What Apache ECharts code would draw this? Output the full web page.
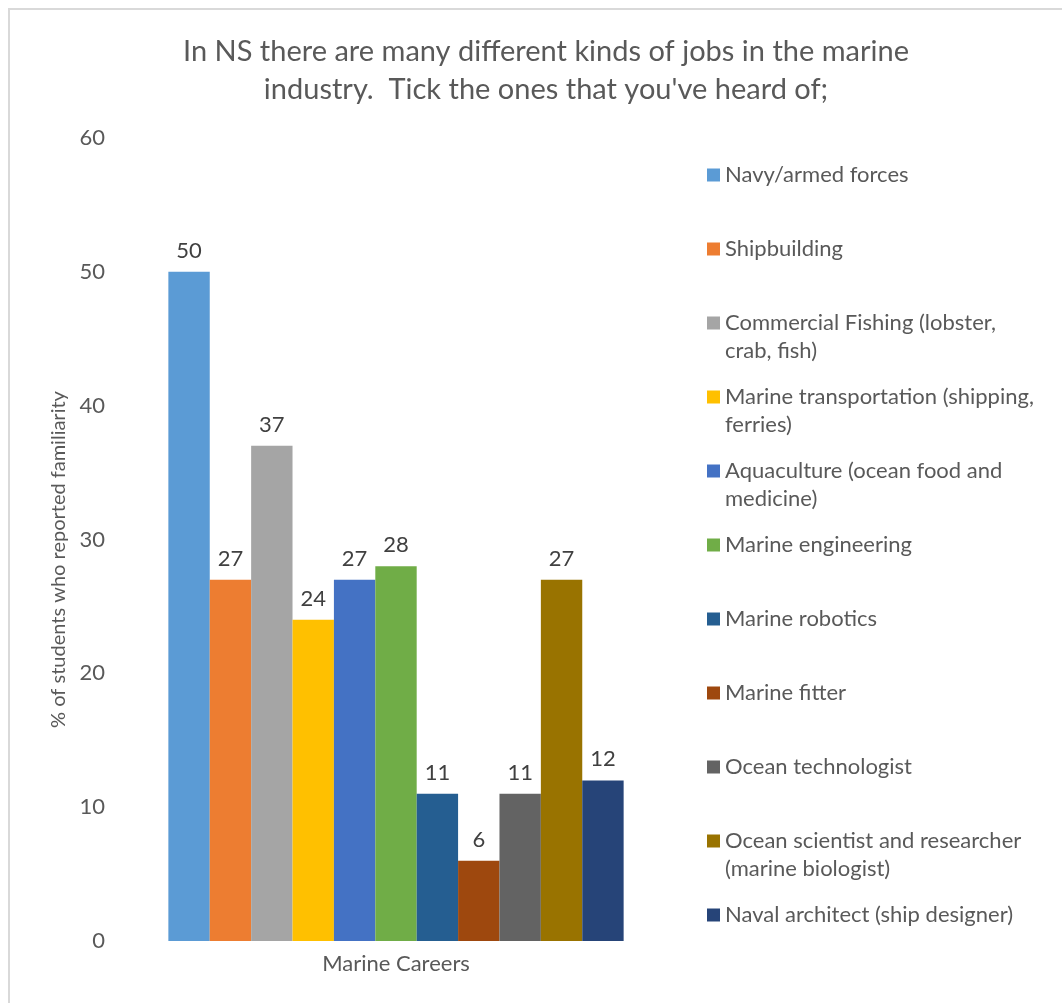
<!DOCTYPE html>
<html>
<head>
<meta charset="utf-8">
<script src="https://cdn.jsdelivr.net/npm/echarts@6/dist/echarts.min.js"></script>
<style>
  html, body { margin: 0; padding: 0; background: #fff; }
  #frame { position: absolute; left: 8px; top: 8px; width: 1062px; height: 1003px;
           border-top: 2px solid #d9d9d9; border-left: 2px solid #d9d9d9; }
  #chartDiv { position: absolute; left: 0; top: 0; width: 1062px; height: 1003px; }
</style>
</head>
<body>
<div id="frame"></div>
<div id="chartDiv"></div>
<script>
var categories = ["Marine Careers"];

var seriesNames = [
  "Navy/armed forces",
  "Shipbuilding",
  "Commercial Fishing (lobster, crab, fish)",
  "Marine transportation (shipping, ferries)",
  "Aquaculture (ocean food and medicine)",
  "Marine engineering",
  "Marine robotics",
  "Marine fitter",
  "Ocean technologist",
  "Ocean scientist and researcher (marine biologist)",
  "Naval architect (ship designer)"
];

// legend text as wrapped in the original
var legendLabels = [
  "Navy/armed forces",
  "Shipbuilding",
  "Commercial Fishing (lobster,\ncrab, fish)",
  "Marine transportation (shipping,\nferries)",
  "Aquaculture (ocean food and\nmedicine)",
  "Marine engineering",
  "Marine robotics",
  "Marine fitter",
  "Ocean technologist",
  "Ocean scientist and researcher\n(marine biologist)",
  "Naval architect (ship designer)"
];

var values = [50, 27, 37, 24, 27, 28, 11, 6, 11, 27, 12];

var colors = ["#5B9BD5", "#ED7D31", "#A5A5A5", "#FFC000", "#4472C4", "#70AD47",
              "#255E91", "#9E480E", "#636363", "#997300", "#264478"];

var yTicks = { min: 0, max: 60, interval: 10 };

var font = "Lato, 'Open Sans', sans-serif";

var myChart = echarts.init(document.getElementById("chartDiv"));

var series = [];
for (var i = 0; i < seriesNames.length; i++) {
  series.push({
    name: seriesNames[i],
    type: "bar",
    data: [values[i]],
    barGap: "0%",
    barCategoryGap: "16%",
    itemStyle: { color: colors[i] },
    label: {
      show: true,
      position: "top",
      distance: 10,
      color: "#404040",
      fontSize: 22,
      fontFamily: font
    }
  });
}

var option = {
  animation: false,
  color: colors,
  title: {
    text: "In NS there are many different kinds of jobs in the marine\nindustry.  Tick the ones that you've heard of;",
    left: 541,
    textAlign: "center",
    top: 28,
    textStyle: {
      fontFamily: font,
      fontWeight: 400,
      fontSize: 29,
      lineHeight: 38,
      color: "#595959"
    }
  },
  legend: {
    orient: "vertical",
    left: 702,
    top: 128,
    itemWidth: 13,
    itemHeight: 13,
    itemGap: -10,
    icon: "rect",
    data: seriesNames,
    // blank first line so the marker sits beside the first text line
    formatter: function (name) {
      var lbl = legendLabels[seriesNames.indexOf(name)];
      if (lbl.indexOf("\n") < 0) lbl += "\n ";
      return " \n" + lbl;
    },
    textStyle: {
      fontFamily: font,
      fontSize: 22,
      lineHeight: 28,
      color: "#595959"
    }
  },
  grid: {
    left: 125,
    width: 542,
    top: 138,
    bottom: 62
  },
  xAxis: {
    type: "category",
    data: categories,
    axisLine: { show: false },
    axisTick: { show: false },
    axisLabel: {
      fontFamily: font,
      fontSize: 22,
      color: "#595959",
      margin: 12
    }
  },
  yAxis: {
    type: "value",
    min: yTicks.min,
    max: yTicks.max,
    interval: yTicks.interval,
    name: "% of students who reported familiarity",
    nameLocation: "middle",
    nameGap: 47,
    nameTextStyle: {
      fontFamily: font,
      fontSize: 20,
      color: "#595959",
      padding: [0, 40, 0, 0]
    },
    splitLine: { show: false },
    axisLine: { show: false },
    axisTick: { show: false },
    axisLabel: {
      fontFamily: font,
      fontSize: 22,
      color: "#595959",
      margin: 20
    }
  },
  series: series
};

myChart.setOption(option);
</script>
</body>
</html>
